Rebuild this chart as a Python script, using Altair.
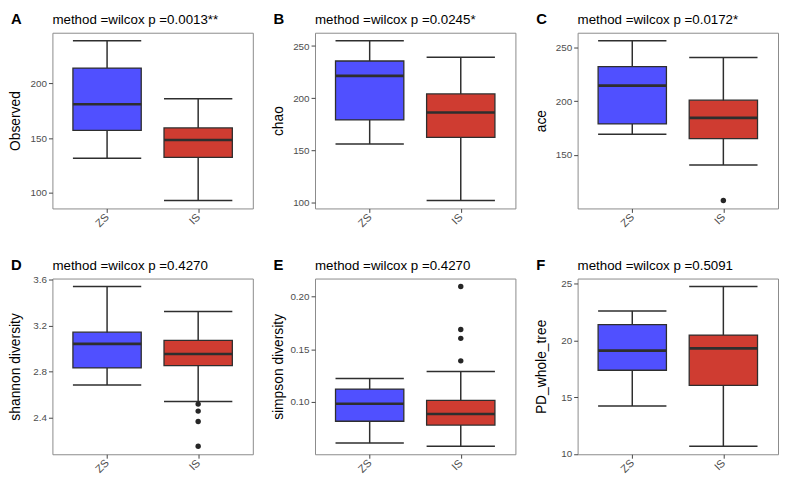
import altair as alt
import pandas as pd

letters = ["A", "B", "C", "D", "E", "F"]
titles = [
    "method =wilcox p =0.0013**",
    "method =wilcox p =0.0245*",
    "method =wilcox p =0.0172*",
    "method =wilcox p =0.4270",
    "method =wilcox p =0.4270",
    "method =wilcox p =0.5091",
]
ytitles = ["Observed", "chao", "ace", "shannon diversity", "simpson diversity", "PD_whole_tree"]
groups = ["ZS", "IS"]
colors = ["#5050FF", "#CF3C31"]

# [lower whisker, Q1, median, Q3, upper whisker]
zs_stats = [
    [131.5, 157.0, 181.0, 214.0, 239.0],
    [156.4, 179.4, 221.5, 235.7, 255.1],
    [169.1, 178.8, 214.4, 232.1, 256.2],
    [2.682, 2.831, 3.040, 3.142, 3.539],
    [0.0610, 0.0817, 0.0982, 0.1122, 0.1221],
    [14.22, 17.37, 19.10, 21.39, 22.60],
]
is_stats = [
    [93.0, 132.4, 148.3, 159.3, 186.0],
    [102.4, 162.7, 186.4, 204.2, 239.4],
    [140.6, 165.2, 184.4, 200.9, 240.6],
    [2.538, 2.850, 2.952, 3.071, 3.321],
    [0.0580, 0.0781, 0.0886, 0.1014, 0.1288],
    [10.67, 16.03, 19.30, 20.47, 24.75],
]
is_outliers = [
    [],
    [],
    [107.6],
    [2.516, 2.455, 2.364, 2.149],
    [0.2093, 0.1686, 0.1602, 0.1389],
    [],
]
yticks = [
    [100, 150, 200],
    [100, 150, 200, 250],
    [150, 200, 250],
    [2.4, 2.8, 3.2, 3.6],
    [0.10, 0.15, 0.20],
    [10, 15, 20, 25],
]
yformats = ["d", "d", "d", ".1f", ".2f", "d"]

W, H = 203, 178
STEP = W / 2.2
BOXW = 0.75 * STEP
DARK = "#2e2e2e"
FONT = "Liberation Sans"


def panel(i):
    rows = []
    for g, st in zip(groups, [zs_stats[i], is_stats[i]]):
        rows.append(dict(group=g, lo=st[0], q1=st[1], med=st[2], q3=st[3], hi=st[4]))
    df = pd.DataFrame(rows)
    allv = zs_stats[i] + is_stats[i] + is_outliers[i]
    lo, hi = min(allv), max(allv)
    pad = 0.05 * (hi - lo)
    ysc = alt.Scale(domain=[lo - pad, hi + pad], nice=False, zero=False)
    yaxis = alt.Axis(
        title=ytitles[i], values=yticks[i], format=yformats[i], grid=False,
        titleX=-37, titleY=H / 2, titleAngle=270, titleBaseline="middle", titleAlign="center",
    )
    x = alt.X(
        "group:N", sort=groups,
        scale=alt.Scale(type="point", padding=0.6, domain=groups),
        axis=alt.Axis(title=None, labelAngle=315, labelAlign="right", labelBaseline="middle",
                      labelPadding=3, labelFontSize=11, grid=False),
    )
    base = alt.Chart(df)
    whisk = base.mark_rule(color=DARK, strokeWidth=1.5).encode(
        x=x, y=alt.Y("lo:Q", scale=ysc, axis=yaxis), y2="hi:Q")
    cap_lo = base.mark_tick(size=BOXW, thickness=1.5, color=DARK, opacity=1).encode(
        x=x, y=alt.Y("lo:Q", scale=ysc, axis=yaxis))
    cap_hi = base.mark_tick(size=BOXW, thickness=1.5, color=DARK, opacity=1).encode(
        x=x, y=alt.Y("hi:Q", scale=ysc, axis=yaxis))
    box = base.mark_bar(size=BOXW, stroke=DARK, strokeWidth=1.3, opacity=1).encode(
        x=x, y=alt.Y("q1:Q", scale=ysc, axis=yaxis), y2="q3:Q",
        color=alt.Color("group:N", scale=alt.Scale(domain=groups, range=colors), legend=None))
    med = base.mark_tick(size=BOXW, thickness=2.6, color=DARK, opacity=1).encode(
        x=x, y=alt.Y("med:Q", scale=ysc, axis=yaxis))
    layers = [whisk, cap_lo, cap_hi, box, med]
    if is_outliers[i]:
        odf = pd.DataFrame({"group": ["IS"] * len(is_outliers[i]), "v": is_outliers[i]})
        outl = alt.Chart(odf).mark_circle(size=30, color="#262626", opacity=1).encode(
            x=x, y=alt.Y("v:Q", scale=ysc, axis=yaxis))
        layers.append(outl)
    lab = pd.DataFrame({"letter": [letters[i]], "title": [titles[i]]})
    letter = alt.Chart(lab).mark_text(
        align="left", baseline="middle", fontSize=15, fontWeight="bold", color="black", font=FONT
    ).encode(x=alt.value(-42), y=alt.value(-14), text="letter:N")
    ttl = alt.Chart(lab).mark_text(
        align="left", baseline="middle", fontSize=13.5, color="black", font=FONT
    ).encode(x=alt.value(0), y=alt.value(-13), text="title:N")
    layers += [letter, ttl]
    return alt.layer(*layers).properties(width=W, height=H)


row1 = alt.hconcat(panel(0), panel(1), panel(2), spacing=17)
row2 = alt.hconcat(panel(3), panel(4), panel(5), spacing=17)
chart = alt.vconcat(row1, row2, spacing=28).properties(padding=0).configure_view(
    stroke="#8a8a8a", strokeWidth=1
).configure_axis(
    domain=False, tickColor="#444444", tickSize=4, labelColor="#4d4d4d", labelFontSize=10,
    labelFont=FONT, titleFont=FONT, titleFontSize=14, titleFontWeight="normal", titleColor="black",
)

chart.save("out.html", embed_options={"renderer": "svg", "actions": False})
